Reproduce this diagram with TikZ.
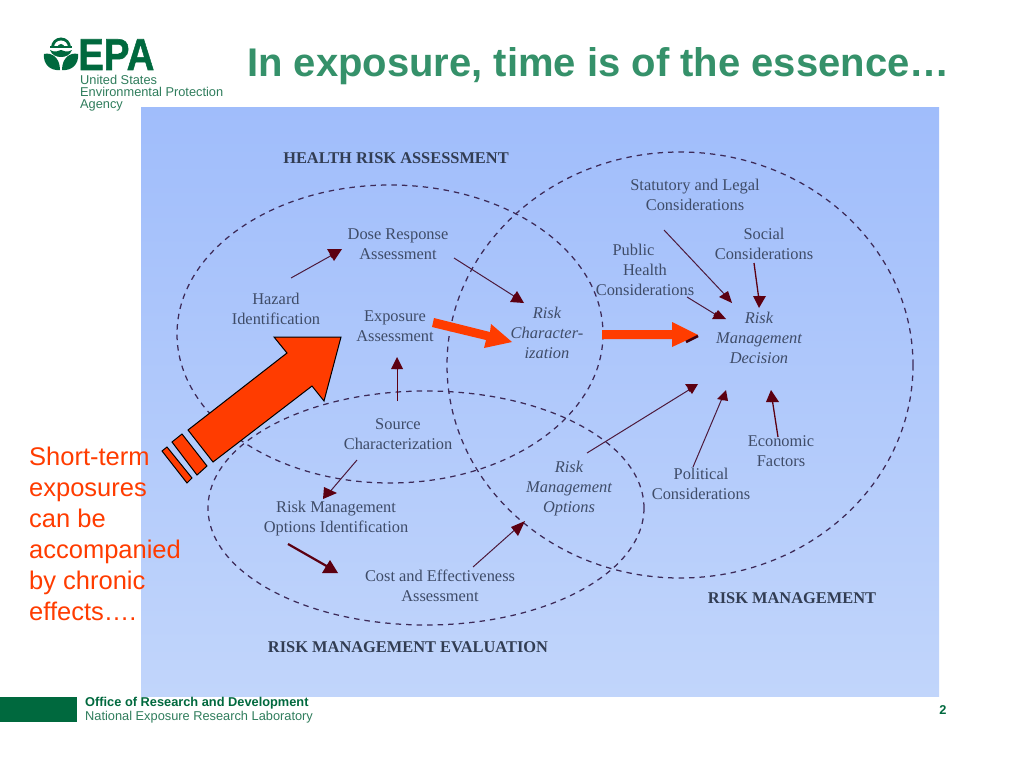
\documentclass[tikz,border=0pt]{standalone}
\usepackage{fontspec}
\setmainfont{Liberation Sans}
\newfontfamily\diagfont{Liberation Serif}
\newfontfamily\epafont[FakeBold=1.2]{Liberation Sans Bold}
\usetikzlibrary{arrows.meta,calc}
\definecolor{epagreen}{HTML}{00693E}
\definecolor{titlegreen}{HTML}{35916A}
\definecolor{labelgreen}{HTML}{2F7D5C}
\definecolor{slab}{HTML}{3F4C68}
\definecolor{ringc}{HTML}{3D2A58}
\definecolor{shaftc}{HTML}{4D1A3C}
\definecolor{tipc}{HTML}{5C0011}
\definecolor{hot}{HTML}{FF3C00}
\definecolor{paneltop}{HTML}{A0BDFB}
\definecolor{panelbot}{HTML}{C1D5FB}
\tikzset{
  lab/.style={font=\diagfont\fontsize{16.4}{20}\selectfont,text=slab,align=center,inner sep=0pt},
  ilab/.style={font=\diagfont\itshape\fontsize{16.4}{20}\selectfont,text=slab,align=center,inner sep=0pt},
  head/.style={font=\diagfont\bfseries\fontsize{16.4}{20}\selectfont,text=slab!80!black,inner sep=0pt},
  ring/.style={draw=ringc,line width=1.25pt,dash pattern=on 5.5pt off 5pt},
  conn/.style={draw=shaftc,line width=1pt,-{Triangle[length=4pt,width=4pt,fill=tipc,color=tipc]}},
  tiptri/.style={fill=tipc,draw=none},
  hotbox/.style={fill=hot,draw=black,line width=1pt,line join=miter},
  hotarrow/.style={fill=hot,draw=none},
  small/.style={font=\fontsize{12.8}{13}\selectfont,text=labelgreen,anchor=base west,inner sep=0pt},
}
\begin{document}
\begin{tikzpicture}[x=1pt,y=-1pt]
\useasboundingbox (0,0) rectangle (1024,768);
\fill[white] (0,0) rectangle (1024,768);
% panel
\shade[top color=paneltop,bottom color=panelbot] (141,107) rectangle (939,696);
% rings
\draw[ring] (390,334) ellipse [x radius=213,y radius=149];
\draw[ring] (680,365) ellipse [x radius=233,y radius=213];
\draw[ring] (426,508) ellipse [x radius=218,y radius=117];
% headings
\node[head] (hra) at (396,158) {HEALTH RISK ASSESSMENT};
\node[head] (rm) at (792,598) {RISK MANAGEMENT};
\node[head] (rme) at (408,647) {RISK MANAGEMENT EVALUATION};
% labels
\node[lab] (haz) at (276,309) {Hazard\\Identification};
\node[lab] (dose) at (398,244) {Dose Response\\Assessment};
\node[lab] (expo) at (395,326) {Exposure\\Assessment};
\node[ilab] (char) at (547,333) {Risk\\Character-\\ization};
\node[lab] (src) at (398,434) {Source\\Characterization};
\node[lab] (rmoi) at (336,519) {Risk Management\\Options Identification};
\node[lab] (cost) at (440,586) {Cost and Effectiveness\\Assessment};
\node[ilab] (rmo) at (569,489) {Risk\\Management\\Options};
\node[lab] (pol) at (701,484) {Political\\Considerations};
\node[lab] (eco) at (781,451) {Economic\\Factors};
\node[ilab] (dec) at (759,338) {Risk\\Management\\Decision};
\node[lab] (pub) at (645,270) {Public\hspace*{23pt}\\Health\hspace*{23pt}\\Considerations};
\node[lab] (stat) at (695,195) {Statutory and Legal\\Considerations};
\node[lab] (soc) at (764,244) {Social\\Considerations};
% connectors
\draw[conn] ([shift={(15,-31)}]haz.center) -- ([shift={(-64,10)}]dose.center);
\fill[tiptri] (327,249) -- (342,249) -- (334,261) -- cycle;
\draw[conn] ([shift={(56,14)}]dose.center) -- ([shift={(-30,-35)}]char.center);
\fill[tiptri] (517,291) -- (510,302) -- (524,303) -- cycle;
\draw[conn,draw=tipc] ([shift={(-1,-33)}]src.center) -- ([shift={(2,39)}]expo.center);
\fill[tiptri] (397,357) -- (391,369) -- (403,369) -- cycle;
\draw[conn] ([shift={(-41,26)}]src.center) -- ([shift={(-8,-25)}]rmoi.center);
\fill[tiptri] (324,487) -- (323,499) -- (337,493) -- cycle;
\draw[conn,draw=tipc,line width=2.2pt] ([shift={(-48,25)}]rmoi.center) -- ([shift={(-110,-18)}]cost.center);
\fill[tiptri] (330,560) -- (322,573) -- (338,573) -- cycle;
\draw[conn] ([shift={(33,-19)}]cost.center) -- ([shift={(-51,38)}]rmo.center);
\fill[tiptri] (525,521) -- (511,527) -- (518,536) -- cycle;
\draw[conn] ([shift={(18,-36)}]rmo.center) -- ([shift={(-67,50)}]dec.center);
\fill[tiptri] (685,384) -- (698,384) -- (692,394) -- cycle;
\draw[conn] ([shift={(-8,-17)}]pol.center) -- ([shift={(-36,58)}]dec.center);
\fill[tiptri] (726,390) -- (717,399) -- (728,401) -- cycle;
\draw[conn,draw=tipc,line width=1.3pt] ([shift={(-3,-14)}]eco.center) -- ([shift={(13,60)}]dec.center);
\fill[tiptri] (771,390) -- (766,402) -- (779,402) -- cycle;
\draw[conn] ([shift={(-31,35)}]stat.center) -- ([shift={(-32,-41)}]dec.center);
\fill[tiptri] (728,291) -- (719,297) -- (732,303) -- cycle;
\draw[conn,draw=tipc,line width=1.3pt] ([shift={(-10,19)}]soc.center) -- ([shift={(0,-38)}]dec.center);
\fill[tiptri] (753,296) -- (766,296) -- (759,308) -- cycle;
\draw[conn] ([shift={(42,27)}]pub.center) -- ([shift={(-41,-22)}]dec.center);
\fill[tiptri] (718,310) -- (712,319) -- (726,319) -- cycle;
% orange arrows
\fill[hotarrow] (434,318) -- (490,332) -- (491,324) -- (512,342) -- (484,348) -- (486,340) -- (432,327) -- cycle;
\fill[hotarrow] (602,330) -- (672,330) -- (672,322) -- (698,335) -- (672,347) -- (672,339) -- (602,339) -- cycle;
\draw[tipc!70!black,line width=2.5pt] (686,342) -- (698,336);
% big arrow
\path[hotbox] (188,430) -- (287,353) -- (274,337) -- (341,337) -- (324,401) -- (312,386) -- (213,462) -- cycle;
\path[hotbox] (172,442) -- (182,434) -- (207,466) -- (197,475) -- cycle;
\path[hotbox] (162,451) -- (167,447) -- (192,478) -- (187,483) -- cycle;
% left text
\node[font=\fontsize{25.5}{31}\selectfont,text=hot,align=left,anchor=north west,inner sep=0pt] (note) at (29,447) {Short-term\\exposures\\can be\\accompanied\\by chronic\\effects….};
% title
\node[font=\bfseries\fontsize{40}{42}\selectfont,text=titlegreen,anchor=west,inner sep=0pt] (title) at (247,66) {In exposure, time is of the essence…};
% logo
\node[font=\epafont\fontsize{44.7}{45}\selectfont,text=epagreen,anchor=base west,inner sep=0pt] (epa) at (78,70) {\scalebox{0.86}[1]{EPA}};
\fill[epagreen] (51,47.5) arc[start angle=180,end angle=360,radius=10] -- cycle;
\fill[white] (54,47.5) arc[start angle=180,end angle=360,radius=7] -- cycle;
\fill[epagreen] (57.5,47.5) arc[start angle=180,end angle=360,radius=3.5] -- cycle;
\fill[epagreen] (50,46.5) rectangle (72,48.5);
\fill[epagreen] (50,50) .. controls (55,53) and (58,51) .. (61,50) .. controls (64,51) and (67,53) .. (72,50) .. controls (70,55) and (66,57) .. (61,57) .. controls (56,57) and (52,55) .. (50,50) -- cycle;
\fill[epagreen] (44,54) .. controls (52,52) and (60,58) .. (60,70) .. controls (50,71) and (43,64) .. (44,54) -- cycle;
\fill[epagreen] (78,54) .. controls (70,52) and (62,58) .. (62,70) .. controls (72,71) and (79,64) .. (78,54) -- cycle;
\node[small] (l1) at (80,84) {United States};
\node[small] (l2) at (80,96) {Environmental Protection};
\node[small] (l3) at (80,108) {Agency};
% footer
\fill[epagreen] (0,697) rectangle (77,722);
\node[font=\bfseries\fontsize{12.8}{14}\selectfont,text=epagreen,anchor=west,inner sep=0pt] (f1) at (85,703.5) {Office of Research and Development};
\node[font=\fontsize{12.8}{14}\selectfont,text=labelgreen,anchor=west,inner sep=0pt] (f2) at (85,717.5) {National Exposure Research Laboratory};
\node[font=\bfseries\fontsize{12.8}{14}\selectfont,text=epagreen,inner sep=0pt] (pg) at (943,710) {2};
\end{tikzpicture}
\end{document}
